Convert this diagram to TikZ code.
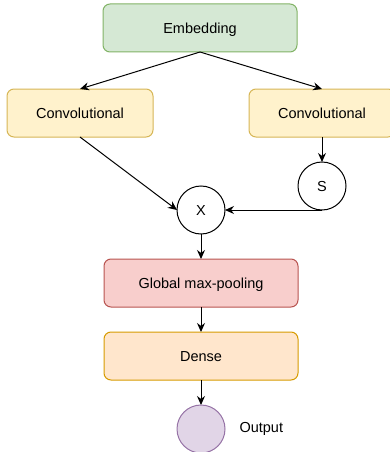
\documentclass[tikz,border=0pt]{standalone}
\usepackage{fontspec}
\setmainfont{Liberation Sans}
\usetikzlibrary{arrows.meta, positioning}
\definecolor{embfill}{HTML}{D5E8D4}
\definecolor{embdraw}{HTML}{82B366}
\definecolor{convfill}{HTML}{FFF2CC}
\definecolor{convdraw}{HTML}{D6B656}
\definecolor{poolfill}{HTML}{F8CECC}
\definecolor{pooldraw}{HTML}{B85450}
\definecolor{densefill}{HTML}{FFE6CC}
\definecolor{densedraw}{HTML}{D79B00}
\definecolor{outfill}{HTML}{E1D5E7}
\definecolor{outdraw}{HTML}{9673A6}

\begin{document}
\begin{tikzpicture}[
    x=1pt, y=1pt,
    node distance=25pt and 11pt,
    block/.style={rectangle, rounded corners=7pt, minimum width=194pt, minimum height=48pt, outer sep=0pt, text height=10.5pt, text depth=0pt, font=\fontsize{14.5}{17}\selectfont, align=center, line width=1pt},
    opnode/.style={circle, draw=black, fill=white, minimum size=48pt, inner sep=0pt, outer sep=0pt, text height=10.5pt, text depth=0pt, font=\fontsize{14.5}{17}\selectfont, line width=1pt},
    arrow/.style={-{Stealth[length=9pt, width=8pt]}, line width=1pt},
]
\useasboundingbox (0,0) rectangle (390,-452);

% Embedding
\node[block, fill=embfill, draw=embdraw] (emb) at (200,-28) {Embedding};

% Two conv branches
\node[block, minimum width=146pt, fill=convfill, draw=convdraw] (convl) at (80,-113) {Convolutional};
\node[block, minimum width=146pt, fill=convfill, draw=convdraw] (convr) at (322,-113) {Convolutional};

% Gate and product
\node[opnode] (sig) at (322,-186) {S};
\node[opnode] (mult) at (201,-210) {X};

% Pooling and dense
\node[block, fill=poolfill, draw=pooldraw, below=of mult] (pool) {Global max-pooling};
\node[block, fill=densefill, draw=densedraw, below=of pool] (dense) {Dense};

% Output
\node[opnode, fill=outfill, draw=outdraw, below=of dense] (out) {};
\node[right=of out, font=\fontsize{14.5}{17}\selectfont] (outlbl) {Output};

% Arrows
\draw[arrow] (emb.south) -- (convl.north);
\draw[arrow] (emb.south) -- (convr.north);
\draw[arrow] (convl.south) -- (mult.west);
\draw[arrow] (convr.south) -- (sig.north);
\draw[arrow] (sig.south) -- (mult.east);
\draw[arrow] (mult) -- (pool);
\draw[arrow] (pool) -- (dense);
\draw[arrow] (dense) -- (out);

\end{tikzpicture}
\end{document}
